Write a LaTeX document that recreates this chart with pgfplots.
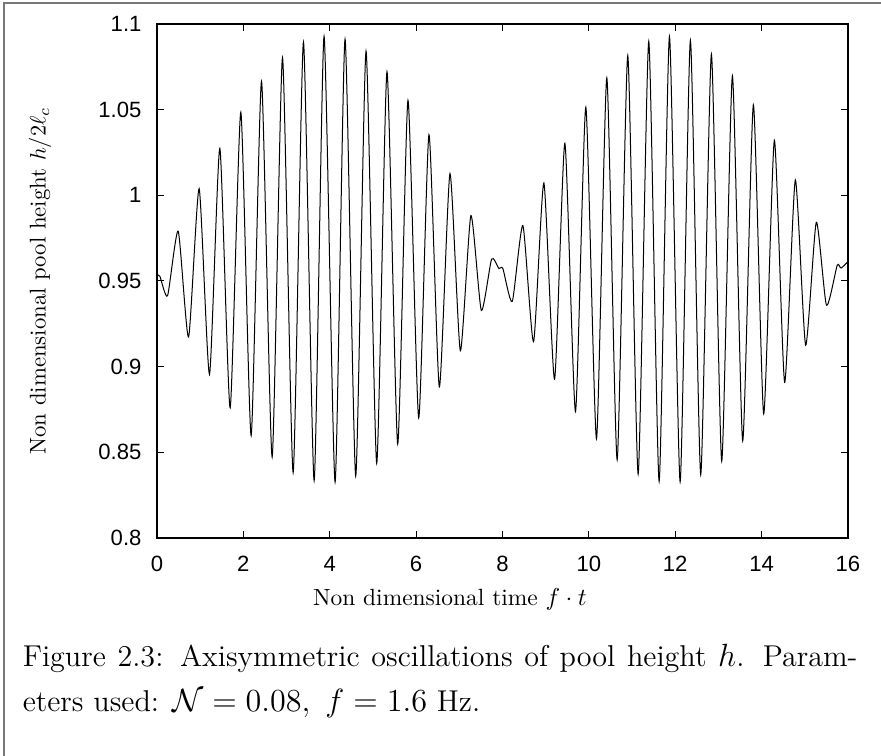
\documentclass[border=0pt]{standalone}
\usepackage{fontspec}
\usepackage{pgfplots}
\pgfplotsset{compat=1.18}
\newfontfamily\tickfont{Liberation Sans}
\definecolor{framegray}{RGB}{120,120,120}
\pgfplotstableread{
x y
0.000 0.9536
0.070 0.9526
0.247 0.9414
0.493 0.9790
0.733 0.9172
0.978 1.0038
1.218 0.8954
1.457 1.0274
1.696 0.8759
1.943 1.0485
2.182 0.8597
2.422 1.0664
2.668 0.8472
2.908 1.0803
3.154 0.8381
3.393 1.0894
3.640 0.8334
3.870 1.0927
4.125 0.8326
4.356 1.0911
4.603 0.8361
4.842 1.0841
5.089 0.8436
5.327 1.0721
5.575 0.8548
5.813 1.0554
6.061 0.8700
6.299 1.0353
6.539 0.8881
6.785 1.0126
7.025 0.9093
7.270 0.9881
7.511 0.9328
7.749 0.9627
7.918 0.9572
8.010 0.9572
8.228 0.9380
8.474 0.9823
8.721 0.9145
8.960 1.0071
9.207 0.8926
9.446 1.0303
9.692 0.8737
9.931 1.0514
10.178 0.8578
10.417 1.0685
10.656 0.8456
10.902 1.0815
11.142 0.8373
11.388 1.0898
11.628 0.8330
11.867 1.0926
12.114 0.8328
12.352 1.0904
12.591 0.8369
12.838 1.0823
13.077 0.8448
13.324 1.0697
13.563 0.8566
13.810 1.0528
14.049 0.8724
14.296 1.0321
14.534 0.8908
14.781 1.0089
15.020 0.9125
15.267 0.9842
15.502 0.9358
15.750 0.9590
15.840 0.9575
16.000 0.9612
}\pooldata
\begin{document}
\begin{tikzpicture}[x=1pt,y=1pt]
\useasboundingbox (0,0) rectangle (394.7,338.7);
\draw[framegray, line width=0.7pt] (1.8,0) -- (1.8,337.4) -- (394.7,337.4);
\begin{axis}[
  at={(70.3pt,97.7pt)}, anchor=south west,
  scale only axis, width=309.6pt, height=230.3pt,
  xmin=0, xmax=16, ymin=0.8, ymax=1.1,
  xtick={0,2,4,6,8,10,12,14,16},
  xticklabels={0,2,4,6,8,10,12,14,16},
  ytick={0.8,0.85,0.9,0.95,1,1.05,1.1},
  yticklabels={0.8,0.85,0.9,0.95,1,1.05,1.1},
  tick align=inside, major tick length=3.2pt,
  xtick pos=both, ytick pos=both,
  axis line style={line width=0.6pt, black},
  tick style={line width=0.5pt, black},
  ticklabel style={font=\tickfont\fontsize{9.9}{11}\selectfont},
  /pgf/number format/assume math mode=true,
  xticklabel style={yshift=-4.6pt},
  yticklabel style={xshift=-3.4pt},
  xlabel={Non dimensional time $f\cdot t$},
  ylabel={Non dimensional pool height $h/2\ell_c$},
  xlabel style={font=\fontsize{10.5}{13}\selectfont, at={(axis description cs:0.424,-0.119)}, anchor=center},
  ylabel style={font=\fontsize{10.2}{12}\selectfont, at={(axis description cs:-0.169,0.5)}, anchor=center},
  clip=true,
]
\addplot[black, line width=0.45pt, smooth, tension=0.36] table[x=x,y=y] {\pooldata};
\end{axis}
\node[anchor=north west, inner sep=0pt, text width=374pt, align=justify,
      font=\fontsize{13.5}{20.2}\selectfont] at (10,50.5)
  {Figure 2.3: Axisymmetric oscillations of pool height $h$. Param-\linebreak eters used: $\mathcal{N} = 0.08,\ f = 1.6$ Hz.};
\end{tikzpicture}
\end{document}
